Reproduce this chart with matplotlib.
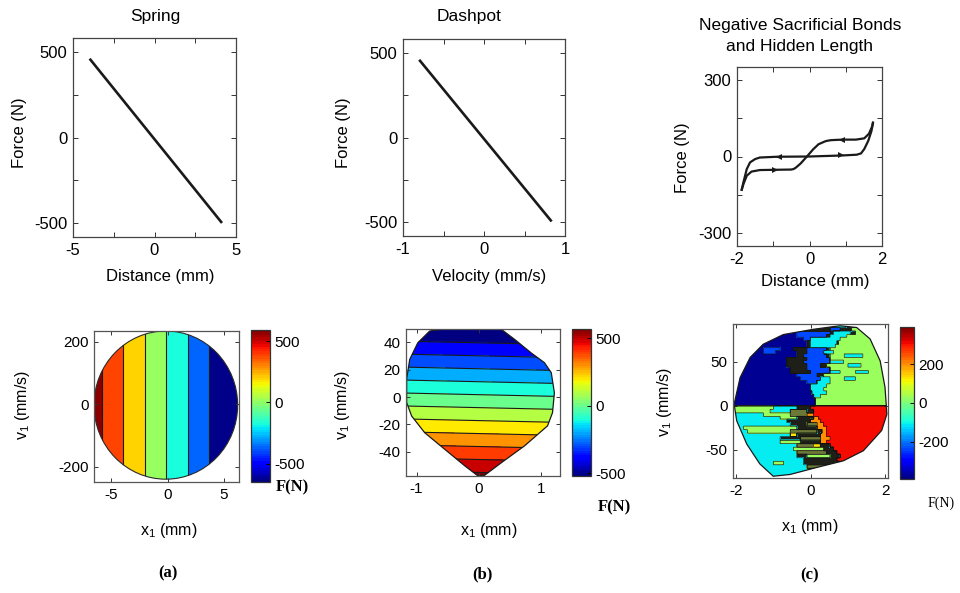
import numpy as np
import matplotlib
matplotlib.use("Agg")
import matplotlib.pyplot as plt
from matplotlib.colors import Normalize
from matplotlib.cm import ScalarMappable
from matplotlib.patches import Ellipse, Polygon

plt.rcParams['font.family'] = ['Liberation Sans', 'DejaVu Sans']
plt.rcParams['axes.unicode_minus'] = False
plt.rcParams['mathtext.fontset'] = 'custom'
plt.rcParams['mathtext.rm'] = 'Liberation Sans'
plt.rcParams['contour.negative_linestyle'] = 'solid'

# ---------------- data ----------------
# top row: force-displacement / force-velocity relations
spring_x = [-3.98, 4.14]
spring_F = [461, -500]

dashpot_v = [-0.80, 0.835]
dashpot_F = [460, -497]

# hysteresis loop of the sacrificial-bond element (two branches)
branchA_x = [-1.87, -1.82, -1.73, -1.60, -1.37, -0.95, -0.50, -0.44, -0.38, -0.25,
             -0.07, 0.10, 0.25, 0.41, 0.47, 0.60, 0.91, 1.28, 1.51, 1.64, 1.73, 1.75]
branchA_F = [-130, -107, -75, -59, -53, -52, -51, -49, -44, -28,
             0, 28, 48, 58, 61, 64, 66, 66, 71, 89, 118, 132]
branchB_x = [-1.87, -1.82, -1.73, -1.64, -1.50, -1.37, -0.90, 0.0, 0.90, 1.30,
             1.42, 1.51, 1.62, 1.71, 1.75]
branchB_F = [-130, -99, -49, -23, -10, -4, -1, 0, 4, 7,
             12, 29, 61, 100, 132]
arrow_x = [-0.95, -0.85, 0.91, 0.86]
arrow_F = [-52, -1, 66, 4]
arrow_dir = ['>', '<', '<', '>']

# (a) spring force over the phase plane
a_stiffness = 100.0                    # N/mm
a_disc = (-0.15, -2.5, 6.35, 237.5)     # centre x, centre v, half-width, half-height
a_levels = [-370, -180, 10, 200, 390, 580]
a_band_F = [-640, -370, -180, 10, 200, 390, 580]
a_crange = (-650, 590)

# (b) dashpot force over the phase plane
b_damping = 10.6                       # N per mm/s
b_coupling = 1.0
b_offset = -32.0
b_levels = [-450, -350, -250, -150, -50, 50, 150, 250, 350, 450, 550]
b_crange = (-520, 569)
b_outline_x = [-0.79, -0.60, 0.36, 0.57, 0.84, 1.05, 1.16, 1.21, 1.18, 1.10, 0.73,
               0.36, 0.09, -0.02, -0.23, -0.55, -0.87, -1.08, -1.16, -1.16, -1.11, -0.98]
b_outline_v = [48.0, 49.4, 49.2, 42, 32, 25, 17.7, 3, -11.4, -21, -35.6,
               -47.8, -57, -57.3, -50, -38, -26, -13.8, -4, 13, 27.4, 39.5]

# (c) sacrificial-bond force over the phase plane: horizontal streaks,
# each row given by x break points and a code letter per segment
c_crange = (-390, 390)
c_code_F = {'N': -375, 'B': -235, 'K': -160, 'C': -110, 'G': 30,
            'L': 80, 'Y': 130, 'O': 200, 'R': 310}
c_row_edges = [96, 89, 85, 81, 78, 74, 70, 66, 63, 59, 55, 52, 48, 44, 40, 37, 33,
               29, 25, 21, 17, 13, 9, 5, 0,
               -4, -8, -12, -15, -19, -23, -27, -31, -35, -39, -43, -47, -51, -55,
               -59, -63, -67, -71, -75, -86]
c_row_breaks = [
    [-0.20, 0.35, 0.60, 0.95],
    [-0.28, 0.52, 0.79, 1.10],
    [-0.37, 0.52, 0.61, 1.06, 1.20],
    [-0.37, 0.43, 0.52, 0.97],
    [-0.19, -0.01, 0.79],
    [-0.10, -0.01, 0.70, 0.75],
    [-0.10, 0.00, 0.66],
    [-1.27, -0.82, -0.46, -0.10, 0.43, 0.52],
    [-1.27, -0.95, -0.37, -0.10, 0.35, 0.61],
    [-0.37, -0.19, 0.43, 0.52, 0.90, 1.40],
    [-0.64, -0.10, 0.52],
    [-0.64, -0.19, 0.52, 0.88],
    [-0.64, -0.10, 0.26, 0.43, 1.00, 1.35],
    [-0.55, -0.10, 0.52],
    [-0.55, -0.01, 0.52, 0.79, 1.20, 1.55],
    [-0.37, 0.17, 0.35],
    [-0.28, 0.26, 0.52, 0.90, 1.20],
    [-0.10, 0.17, 0.52],
    [-0.01, 0.43],
    [-0.01, 0.35],
    [0.03, 0.43],
    [0.08, 0.26],
    [0.12],
    [0.12],
    [-1.00, -0.37, -0.01],
    [-1.09, -0.55, -0.10, 0.08],
    [-1.27, -0.55, -0.10, 0.08],
    [-0.82, -0.37, 0.08, 0.21],
    [-0.64, -0.01, 0.26],
    [-0.55, -0.10, 0.17, 0.35],
    [-1.80, -0.37, 0.17, 0.43],
    [-1.70, -0.55, 0.17, 0.30, 0.43],
    [-0.55, -0.37, 0.26, 0.43],
    [-0.82, -0.28, 0.26, 0.52],
    [-0.82, -0.28, 0.26, 0.43],
    [-0.37, 0.08, 0.26, 0.52],
    [-0.46, 0.35, 0.61],
    [-0.37, 0.43, 0.70],
    [-0.37, -0.10, 0.52, 0.79],
    [-0.19, 0.70],
    [-1.00, -0.73, -0.19, 0.79],
    [-0.10, 0.52],
    [-0.01],
    [],
]
c_row_codes = ["NBKCK", "NKBKG", "NBKCKG", "NBKCG", "NBCG", "NKCKG", "NKCG",
               "NBNKBKG", "NBNKBCG", "NKBKGCG", "NKBG", "NKBCG", "NKBKGCG", "NKBG",
               "NKBCGCG", "NBKG", "NBCGCG", "NBCG", "NCG", "NCG", "NCG", "NCG",
               "NG", "NG",
               "GCKR", "GCLKR", "CGLOR", "CGKOR", "CKOR", "CKLOR", "CGKOR", "CGLKOR",
               "CYKOR", "CKLOR", "CGKOR", "CLYKR", "CGKR", "CLKR", "CKGKR", "CKR",
               "CGCKR", "CLK", "CK", "C"]
c_outline_x = [-2.05, -1.89, -1.62, -1.27, -0.73, 0.08, 0.79, 1.24, 1.60, 1.87, 2.00,
               2.05, 1.91, 1.42, 0.88, 0.17, -0.55, -1.00, -1.36, -1.71, -1.98]
c_outline_v = [2, 32, 55, 70, 81, 87, 91, 89, 76, 51, 21,
               -9.5, -28, -51, -62.5, -70, -78, -80, -66, -43.5, -17]

# ---------------- layout (pixel boxes: left, top, right, bottom) ----------------
W, H = 960, 593
fig = plt.figure(figsize=(W / 100, H / 100), dpi=100)
jet = matplotlib.colormaps['jet']
jet64 = jet.resampled(64)


def rect(box):
    l, t, r, b = box
    return [l / W, 1 - b / H, (r - l) / W, (b - t) / H]


def place_labels(ax, box, xl, yl):
    l, t, r, b = box
    ax.xaxis.set_label_coords((xl[0] - l) / (r - l), (b - xl[1]) / (b - t))
    ax.xaxis.label.set_va('center')
    ax.yaxis.set_label_coords((yl[0] - l) / (r - l), (b - yl[1]) / (b - t))
    ax.yaxis.label.set_va('center')


def style(ax, size):
    ax.tick_params(which='both', direction='in', top=True, right=True,
                   length=3.5, width=0.7, labelsize=size, pad=4, color='#333333')
    for s in ax.spines.values():
        s.set_color('#444444')
        s.set_linewidth(0.9)


def fig_text(x, y, s, **kw):
    fig.text(x / W, 1 - y / H, s, ha='center', va='center', **kw)


line_kw = dict(color='#1a1a1a', lw=1.9, solid_capstyle='butt')

# ---- Spring
box1 = (73, 38, 236, 237)
ax1 = fig.add_axes(rect(box1))
ax1.plot(spring_x, spring_F, **line_kw)
ax1.set_xlim(-5, 5)
ax1.set_ylim(-582, 582)
ax1.set_xticks([-5, 0, 5])
ax1.set_xticks([-2.5, 2.5], minor=True)
ax1.set_yticks([-500, 0, 500])
ax1.set_yticks([-250, 250], minor=True)
style(ax1, 12)
ax1.set_xlabel('Distance (mm)', fontsize=12)
ax1.set_ylabel('Force (N)', fontsize=12)
place_labels(ax1, box1, (160, 277), (19, 133))
fig_text(155, 16, 'Spring', fontsize=12.5)

# ---- Dashpot
box2 = (403, 39, 565, 236)
ax2 = fig.add_axes(rect(box2))
ax2.plot(dashpot_v, dashpot_F, **line_kw)
ax2.set_xlim(-1, 1)
ax2.set_ylim(-583, 583)
ax2.set_xticks([-1, 0, 1])
ax2.set_xticks([-0.5, 0.5], minor=True)
ax2.set_yticks([-500, 0, 500])
ax2.set_yticks([-250, 250], minor=True)
style(ax2, 12)
ax2.set_xlabel('Velocity (mm/s)', fontsize=12)
ax2.set_ylabel('Force (N)', fontsize=12)
place_labels(ax2, box2, (489, 277), (344, 133))
fig_text(469, 16, 'Dashpot', fontsize=12.5)

# ---- Sacrificial bonds hysteresis
box3 = (737, 67, 882, 246)
ax3 = fig.add_axes(rect(box3))
ax3.plot(branchA_x, branchA_F, color='#1a1a1a', lw=1.6)
ax3.plot(branchB_x, branchB_F, color='#1a1a1a', lw=1.6)
for xa, fa, d in zip(arrow_x, arrow_F, arrow_dir):
    ax3.plot([xa], [fa], marker=d, color='#1a1a1a', ms=4.5, mew=0)
ax3.set_xlim(-2, 2)
ax3.set_ylim(-350, 350)
ax3.set_xticks([-2, 0, 2])
ax3.set_xticks([-1, 1], minor=True)
ax3.set_yticks([-300, 0, 300])
ax3.set_yticks([-150, 150], minor=True)
style(ax3, 12)
ax3.set_xlabel('Distance (mm)', fontsize=12)
ax3.set_ylabel('Force (N)', fontsize=12)
place_labels(ax3, box3, (815, 281), (683, 158))
fig_text(800, 36, 'Negative Sacrificial Bonds\nand Hidden Length', fontsize=12.5,
         linespacing=1.55)


def colorbar(box, crange, ticks, size):
    cax = fig.add_axes(rect(box))
    sm = ScalarMappable(norm=Normalize(*crange), cmap=jet64)
    cb = fig.colorbar(sm, cax=cax, ticks=ticks)
    cb.ax.tick_params(direction='in', length=3, width=0.7, labelsize=size, pad=3)
    cb.outline.set_linewidth(0.9)
    cb.outline.set_edgecolor('#333333')
    return cb


def phase_style(ax):
    ax.tick_params(which='both', direction='in', top=True, right=True,
                   length=3, width=0.7, labelsize=11, pad=4, color='#333333')
    for s in ax.spines.values():
        s.set_color('#555555')
        s.set_linewidth(0.9)


xlab = r'$\mathregular{x_1}$ (mm)'
ylab = r'$\mathregular{v_1}$ (mm/s)'
serif = ['Liberation Serif', 'DejaVu Serif']

# ---- (a) spring force map
box4 = (94, 331, 239, 482)
ax4 = fig.add_axes(rect(box4))
xg = np.linspace(-7, 7, 600)
vg = np.linspace(-260, 260, 400)
Xa, Va = np.meshgrid(xg, vg)
Fa = -a_stiffness * Xa
norm_a = Normalize(*a_crange)
cs = ax4.contourf(Xa, Va, Fa, levels=[-1e4] + a_levels + [1e4],
                  colors=[jet(norm_a(f)) for f in a_band_F])
cl = ax4.contour(Xa, Va, Fa, levels=a_levels, colors='#1a1a1a', linewidths=0.8,
                 linestyles='solid')
disc = Ellipse((a_disc[0], a_disc[1]), 2 * a_disc[2], 2 * a_disc[3],
               fc='none', ec='#2a2a2a', lw=0.8)
ax4.add_patch(disc)
cs.set_clip_path(disc)
cl.set_clip_path(disc)
ax4.set_xlim(-6.5, 6.32)
ax4.set_ylim(-249, 235)
ax4.set_xticks([-5, 0, 5])
ax4.set_yticks([-200, 0, 200])
phase_style(ax4)
ax4.set_xlabel(xlab, fontsize=11.5)
ax4.set_ylabel(ylab, fontsize=11.5)
place_labels(ax4, box4, (169, 530), (22, 405))
colorbar((251, 330, 270, 482), a_crange, [-500, 0, 500], 11)
fig_text(292, 487, 'F(N)', family=serif, fontweight='bold', fontsize=12)
fig_text(168, 573, '(a)', family=serif, fontweight='bold', fontsize=12)

# ---- (b) dashpot force map
box5 = (406, 329, 560, 476)
ax5 = fig.add_axes(rect(box5))
xg = np.linspace(-1.4, 1.4, 500)
vg = np.linspace(-62, 55, 500)
Xb, Vb = np.meshgrid(xg, vg)
Fb = -b_damping * (Vb + b_coupling * Xb) + b_offset
norm_b = Normalize(*b_crange)
cs = ax5.contourf(Xb, Vb, Fb, levels=[-1e4] + b_levels + [1e4], cmap=jet, norm=norm_b)
cl = ax5.contour(Xb, Vb, Fb, levels=b_levels, colors='#1a1a1a', linewidths=0.8,
                 linestyles='solid')
shape_b = Polygon(np.column_stack([b_outline_x, b_outline_v]), closed=True,
                  fc='none', ec='#1a1a1a', lw=0.9)
ax5.add_patch(shape_b)
cs.set_clip_path(shape_b)
cl.set_clip_path(shape_b)
ax5.set_xlim(-1.17, 1.3)
ax5.set_ylim(-57.5, 49.5)
ax5.set_xticks([-1, 0, 1])
ax5.set_yticks([-40, -20, 0, 20, 40])
phase_style(ax5)
ax5.set_xlabel(xlab, fontsize=11.5)
ax5.set_ylabel(ylab, fontsize=11.5)
place_labels(ax5, box5, (489, 530), (343, 405))
colorbar((572, 329, 591, 476), b_crange, [-500, 0, 500], 11)
fig_text(614, 507, 'F(N)', family=serif, fontweight='bold', fontsize=12)
fig_text(482, 574, '(b)', family=serif, fontweight='bold', fontsize=12)

# ---- (c) sacrificial-bond force map
box6 = (733, 324, 888, 478)
ax6 = fig.add_axes(rect(box6))
norm_c = Normalize(*c_crange)
xc = np.arange(-2.2, 2.2, 0.01)
vc = np.arange(-85.75, 96, 0.5)
Fc = np.full((len(vc), len(xc)), np.nan)
for i, codes in enumerate(c_row_codes):
    top, bot = c_row_edges[i], c_row_edges[i + 1]
    rows = (vc <= top) & (vc > bot)
    idx = np.searchsorted(c_row_breaks[i], xc)
    Fc[rows, :] = np.array([c_code_F[ch] for ch in codes])[idx]
Fc = np.ma.masked_invalid(Fc)

order = sorted(c_code_F, key=c_code_F.get)
vals = [c_code_F[k] for k in order]
mids = [(a + b) / 2 for a, b in zip(vals[:-1], vals[1:])]
special = {'K': (0.12, 0.12, 0.10), 'L': (0.42, 0.47, 0.22)}
fill_colors = [special.get(k, jet(norm_c(c_code_F[k]))) for k in order]
Xc, Vc = np.meshgrid(xc, vc)
cs = ax6.contourf(Xc, Vc, Fc, levels=[-1e4] + mids + [1e4], colors=fill_colors)
cl = ax6.contour(Xc, Vc, Fc, levels=mids, colors='#111111', linewidths=0.45,
                 linestyles='solid')
shape_c = Polygon(np.column_stack([c_outline_x, c_outline_v]), closed=True,
                  fc='none', ec='#1a1a1a', lw=0.9)
ax6.add_patch(shape_c)
cs.set_clip_path(shape_c)
cl.set_clip_path(shape_c)
ax6.set_xlim(-2.08, 2.08)
ax6.set_ylim(-82, 93)
ax6.set_xticks([-2, 0, 2])
ax6.set_yticks([-50, 0, 50])
phase_style(ax6)
ax6.set_xlabel(xlab, fontsize=11.5)
ax6.set_ylabel(ylab, fontsize=11.5)
place_labels(ax6, box6, (810, 526), (665, 402))
colorbar((900, 327, 914, 479), c_crange, [-200, 0, 200], 11)
fig_text(941, 503, 'F(N)', family=serif, fontsize=10)
fig_text(810, 575, '(c)', family=serif, fontweight='bold', fontsize=12)

fig.savefig('out.png', dpi=100)
